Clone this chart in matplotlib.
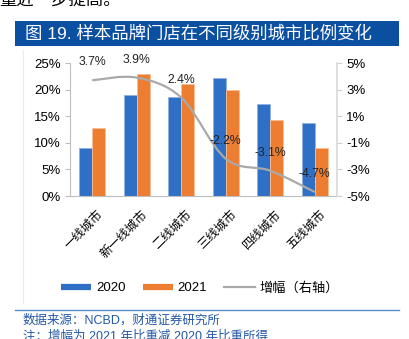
import numpy as np
import matplotlib
matplotlib.use('Agg')
import matplotlib.pyplot as plt
import matplotlib.transforms as mtransforms
from matplotlib.path import Path
from matplotlib.patches import PathPatch, Rectangle
from matplotlib.lines import Line2D

plt.rcParams['font.family'] = ['Liberation Sans', 'Noto Sans CJK SC', 'DejaVu Sans']
plt.rcParams['axes.unicode_minus'] = False

cities = ['一线城市', '新一线城市', '二线城市', '三线城市', '四线城市', '五线城市']
share_2020 = [9.0, 19.0, 18.7, 22.1, 17.3, 13.7]
share_2021 = [12.7, 22.9, 21.1, 19.9, 14.2, 9.0]
growth = [3.7, 3.9, 2.4, -2.2, -3.1, -4.7]

blue = '#2F6FC6'
orange = '#ED7D31'
gray_line = '#A9A9A9'

fig = plt.figure(figsize=(4.09, 3.39), dpi=100)

# text above the figure caption
fig.text(-0.003, 1.0, '量近一步提高。', fontsize=12.5, ha='left', va='center', color='black')

# caption bar
fig.patches.append(Rectangle((15 / 409, 1 - 46 / 339), 384 / 409, 25 / 339,
                             transform=fig.transFigure, facecolor='#0B4FA1',
                             edgecolor='none', zorder=0))
fig.text(25 / 409, 1 - 33.5 / 339, '图 19. 样本品牌门店在不同级别城市比例变化',
         fontsize=12.5, color='white', ha='left', va='center')

# faint chart area edge
fig.lines.append(Line2D([23 / 409, 23 / 409], [1 - 303 / 339, 1 - 50 / 339],
                        transform=fig.transFigure, color='#EBEBEB', lw=0.8))

ax = fig.add_axes([70 / 409, 1 - 196 / 339, 267 / 409, 133 / 339])
ax2 = ax.twinx()

x = np.arange(len(cities))
w = 0.29
ax.bar(x - w / 2, share_2020, w, color=blue, edgecolor='#8FB2E3', linewidth=0.6, zorder=2)
ax.bar(x + w / 2, share_2021, w, color=orange, edgecolor='#F7BE97', linewidth=0.6, zorder=2)

ax.set_xlim(-0.5, len(cities) - 0.5)
ax.set_ylim(0, 25)
ax.set_yticks(range(0, 26, 5))
ax.set_yticklabels([f'{v}%' for v in range(0, 26, 5)], fontsize=9.5)
ax.set_xticks(x)
ax.set_xticklabels(cities, fontsize=8.8, rotation=45, ha='right', va='top',
                   rotation_mode='anchor')
ax.tick_params(axis='x', length=0, pad=9)
shift = mtransforms.ScaledTranslation(5 / 100, 0, fig.dpi_scale_trans)
for lab in ax.get_xticklabels():
    lab.set_transform(lab.get_transform() + shift)
ax.tick_params(axis='y', length=3.5, width=0.8, color='#BFBFBF', pad=3)
for s in ['top', 'right']:
    ax.spines[s].set_visible(False)
ax.spines['left'].set_color('#BFBFBF')
ax.spines['bottom'].set_color('#BFBFBF')

# smoothed growth line (Catmull-Rom segments as cubic Bezier)
pts = np.column_stack([x, growth]).astype(float)
ext = np.vstack([pts[0], pts, pts[-1]])
verts = [tuple(pts[0])]
codes = [Path.MOVETO]
for i in range(len(pts) - 1):
    p0, p1, p2, p3 = ext[i], ext[i + 1], ext[i + 2], ext[i + 3]
    c1 = p1 + (p2 - p0) / 6
    c2 = p2 - (p3 - p1) / 6
    verts += [tuple(c1), tuple(c2), tuple(p2)]
    codes += [Path.CURVE4] * 3
ax2.add_patch(PathPatch(Path(verts, codes), facecolor='none', edgecolor=gray_line,
                        lw=1.6, zorder=3))
for xi, g in zip(x, growth):
    ax2.annotate(f'{g}%', (xi, g), xytext=(0, 13), textcoords='offset points',
                 ha='center', va='center', fontsize=8.8, color='#222222')

ax2.set_ylim(-5, 5)
ax2.set_yticks(range(-5, 6, 2))
ax2.set_yticklabels([f'{v}%' for v in range(-5, 6, 2)], fontsize=9.5)
ax2.tick_params(axis='y', length=3.5, width=0.8, color='#D0D0D0', pad=3)
for s in ['top', 'left', 'bottom']:
    ax2.spines[s].set_visible(False)
ax2.spines['right'].set_color('#D9D9D9')
ax2.spines['right'].set_linewidth(1.2)

handles = [Line2D([], [], color=blue, lw=4.5, solid_capstyle='butt'),
           Line2D([], [], color=orange, lw=4.5, solid_capstyle='butt'),
           Line2D([], [], color=gray_line, lw=1.6)]
fig.legend(handles, ['2020', '2021', '增幅（右轴）'], loc='center',
           bbox_to_anchor=(200 / 409, 1 - 288 / 339), ncol=3, frameon=False,
           fontsize=9.5, handlelength=2.3, handletextpad=0.35, columnspacing=1.3)

# footer
fig.lines.append(Line2D([15 / 409, 399 / 409], [1 - 310 / 339, 1 - 310 / 339],
                        transform=fig.transFigure, color='#5A8DCF', lw=1.0))
fig.text(23 / 409, 1 - 320 / 339, '数据来源：NCBD，财通证券研究所', fontsize=9,
         color='#2457A6', ha='left', va='center')
fig.text(23 / 409, 1 - 337 / 339, '注：增幅为 2021 年比重减 2020 年比重所得', fontsize=9,
         color='#2457A6', ha='left', va='center')

fig.savefig('out.png', dpi=100)
